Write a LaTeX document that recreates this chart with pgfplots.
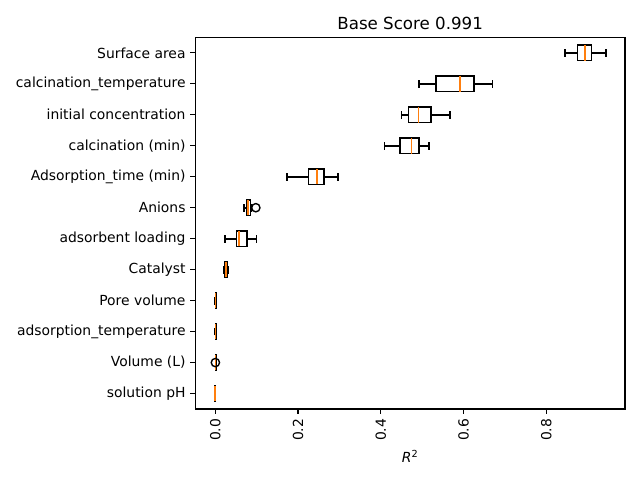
\documentclass[border=0pt]{standalone}
\usepackage{pgfplots}
\pgfplotsset{compat=1.18}
\usepgfplotslibrary{statistics}
\usepackage{fontspec}
\setmainfont{DejaVu Sans}
\definecolor{medorange}{HTML}{FF7F0E}

% box statistics: lower whisker, lower quartile, median, upper quartile, upper whisker
\newcommand{\bx}[6]{%
  \addplot[black, line width=1.2bp, boxplot prepared={
      draw direction=x,
      draw position=#1,
      box extend=0.5,
      whisker extend=0.25,
      every box/.style={draw=black, line width=1.2bp},
      every whisker/.style={draw=black, line width=1.2bp},
      every median/.style={draw=medorange, line width=1.2bp},
      lower whisker=#2, lower quartile=#3, median=#4,
      upper quartile=#5, upper whisker=#6}]
    coordinates {};}

\begin{document}
\begin{tikzpicture}[x=1bp,y=1bp]
\path[use as bounding box] (-140.6,-51.1) rectangle (320.2,294.5);
\begin{axis}[
  at={(0,0)}, anchor=south west,
  scale only axis, width=309.4bp, height=267.6bp,
  xmin=-0.0483, xmax=0.990, ymin=0.5, ymax=12.5,
  axis line style={line width=0.8bp},
  tick style={black, line width=0.8bp},
  tick align=outside, tick pos=left, major tick length=3.5bp,
  xtick={0,0.2,0.4,0.6,0.8},
  ytick={1,...,12},
  yticklabels={solution pH, Volume (L), adsorption\_temperature, Pore volume,
    Catalyst, adsorbent loading, Anions, Adsorption\_time (min),
    calcination (min), initial concentration, calcination\_temperature, Surface area},
  /pgf/number format/assume math mode=true,
  /pgf/number format/fixed, /pgf/number format/fixed zerofill,
  /pgf/number format/precision=1,
  xticklabel style={rotate=90, anchor=east, font=\fontsize{10bp}{12bp}\selectfont},
  yticklabel style={font=\fontsize{10bp}{12bp}\selectfont},
  title={Base Score 0.991},
  title style={font=\fontsize{12bp}{14bp}\selectfont, yshift=-4bp},
  xlabel={\textit{R}\textsuperscript{2}},
  xlabel style={font=\fontsize{10bp}{12bp}\selectfont},
]
\bx{12}{0.845}{0.875}{0.894}{0.909}{0.944}
\bx{11}{0.492}{0.534}{0.592}{0.625}{0.670}
\bx{10}{0.450}{0.467}{0.491}{0.522}{0.567}
\bx{9}{0.409}{0.447}{0.474}{0.492}{0.517}
\bx{8}{0.173}{0.225}{0.245}{0.263}{0.296}
\bx{7}{0.069}{0.076}{0.079}{0.085}{0.086}
\bx{6}{0.024}{0.051}{0.058}{0.077}{0.100}
\bx{5}{0.021}{0.024}{0.026}{0.029}{0.032}
\bx{4}{0.0000}{0.0004}{0.0008}{0.0012}{0.0016}
\bx{3}{0.0000}{0.0004}{0.0008}{0.0012}{0.0016}
\bx{2}{0.0002}{0.0005}{0.0009}{0.0013}{0.0016}
\bx{1}{-0.0008}{-0.0004}{0.0000}{0.0004}{0.0008}
% outliers
\addplot[only marks, mark=o, mark size=3bp, mark options={black, line width=1bp}]
  coordinates {(0.098,7) (0.0003,2)};
\end{axis}
\end{tikzpicture}
\end{document}
